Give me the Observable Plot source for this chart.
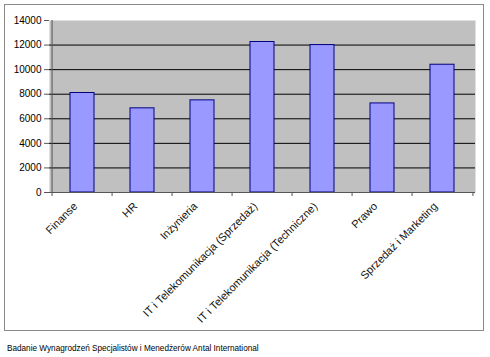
<!DOCTYPE html>
<html><head><meta charset="utf-8">
<script src="https://cdn.jsdelivr.net/npm/d3@7"></script>
<script src="https://cdn.jsdelivr.net/npm/@observablehq/plot@0.6"></script>
<style>
body{margin:0;background:#fff;font-family:"Liberation Sans",Arial,sans-serif;}
#wrap{position:relative;width:490px;height:357px;overflow:hidden;}
#box{position:absolute;left:4px;top:4px;width:478px;height:325px;border:1px solid #8a8a8a;}
#chart{position:absolute;left:0;top:0;}
#cap{position:absolute;left:7px;top:344px;font-size:8.2px;color:#000;white-space:nowrap;}
</style></head>
<body><div id="wrap"><div id="box"></div><div id="chart"></div><div id="cap"></div></div>
<script>
const categories = ["Finanse", "HR", "Inżynieria", "IT i Telekomunikacja (Sprzedaż)", "IT i Telekomunikacja (Techniczne)", "Prawo", "Sprzedaż i Marketing"];
const values = [8100, 6850, 7500, 12250, 12000, 7250, 10400];
const yTicks = [0, 2000, 4000, 6000, 8000, 10000, 12000, 14000];
const caption = "Badanie Wynagrodzeń Specjalistów i Menedżerów Antal International";

const data = categories.map((c, i) => ({cat: c, value: values[i]}));
const W = 490, H = 335, ML = 49, MR = 15, MT = 20, MB = 143;
const step = (W - ML - MR) / categories.length;

const chart = Plot.plot({
  width: W, height: H,
  marginLeft: ML, marginRight: MR, marginTop: MT, marginBottom: MB,
  style: {fontFamily: "'Liberation Sans', Arial, sans-serif", background: "transparent", color: "#000"},
  x: {domain: categories, paddingInner: 0.6, paddingOuter: 0.3, align: 0.5},
  y: {domain: [0, 14000]},
  marks: [
    Plot.frame({fill: "#c0c0c0", stroke: "none"}),
    Plot.ruleY(yTicks.filter(d => d > 0 && d < 14000), {stroke: "#000", strokeWidth: 1}),
    Plot.barY(data, {x: "cat", y: "value", fill: "#9999ff", stroke: "#000080", strokeWidth: 1}),
    Plot.ruleY([0], {stroke: "#555"}),
    Plot.ruleX([categories[0]], {y1: 0, y2: 14000, dx: -step / 2, stroke: "#555"}),
    Plot.ruleX(categories, {y1: 0, y2: 0, insetBottom: -4, dx: -step / 2, stroke: "#555"}),
    Plot.ruleX([categories[categories.length - 1]], {y1: 0, y2: 0, insetBottom: -4, dx: step / 2, stroke: "#555"}),
    Plot.axisY({ticks: yTicks, tickSize: 5, tickPadding: 3, fontSize: 10, tickFormat: d3.format("d"), label: null, stroke: "#555"}),
    Plot.axisX({tickSize: 0, tickPadding: 12, tickRotate: -45, fontSize: 11, dx: -7, label: null, fill: "#111"})
  ]
});
document.getElementById("chart").appendChild(chart);
document.getElementById("cap").textContent = caption;
</script>
</body></html>
